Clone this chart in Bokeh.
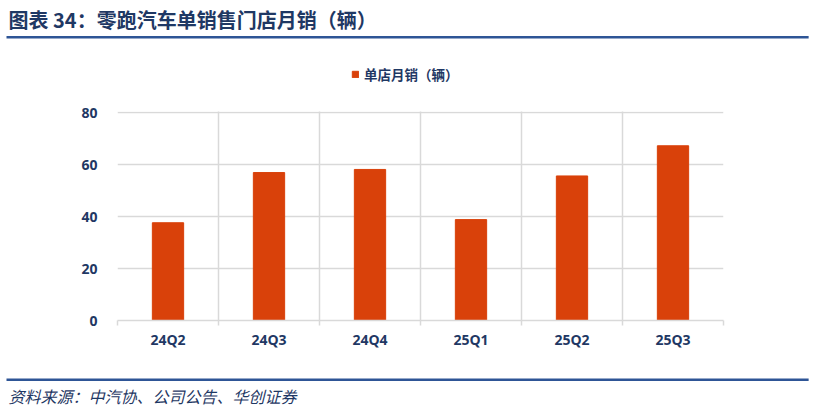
from bokeh.plotting import figure
from bokeh.models import (Range1d, FixedTicker, LinearAxis, Legend, LegendItem, Title,
                          BoxAnnotation)
from bokeh.embed import file_html
from bokeh.resources import INLINE

quarters = ["24Q2", "24Q3", "24Q4", "25Q1", "25Q2", "25Q3"]
sales = [37.6, 56.9, 58.1, 38.8, 55.6, 67.2]
y_ticks = [0, 20, 40, 60, 80]

title_text = "图表 34：零跑汽车单销售门店月销（辆）"
legend_text = "单店月销（辆）"
source_text = "资料来源：中汽协、公司公告、华创证券"

navy = "#1F3864"
rule_c = "#2E5596"
grid_c = "#D9D9D9"
bar_c = "#D9410A"
cjk = "Noto Sans CJK SC"

x_pos = [i + 0.5 for i in range(len(quarters))]

# the frame reaches up to the title rule; the band above 80 holds the legend
plot_h = 208          # pixels from 0 to 80
frame_h = 282
y_top = y_ticks[-1] * frame_h / plot_h

p = figure(
    frame_width=606, frame_height=frame_h,
    min_border_left=117, min_border_right=91,
    min_border_top=38, min_border_bottom=88,
    x_range=Range1d(0, len(quarters)), y_range=Range1d(0, y_top),
    output_backend="svg", toolbar_location=None,
)
p.outline_line_color = None

r = p.vbar(x=x_pos, top=sales, width=0.31, fill_color=bar_c, line_color=bar_c)

# boundary axis: ticks + vertical grid at category edges
ax = p.xaxis[0]
ax.ticker = FixedTicker(ticks=list(range(len(quarters) + 1)))
ax.major_label_overrides = {i: "" for i in range(len(quarters) + 1)}
ax.axis_line_color = grid_c
ax.axis_line_width = 1.5
ax.major_tick_line_color = grid_c
ax.major_tick_line_width = 1.5
ax.major_tick_in = 0
ax.major_tick_out = 5
ax.minor_tick_line_color = None
ax.major_label_standoff = 0

# label axis: quarter names at category centres
lab = LinearAxis(
    ticker=FixedTicker(ticks=x_pos),
    major_label_overrides={x: q for x, q in zip(x_pos, quarters)},
)
lab.axis_line_color = None
lab.major_tick_line_color = None
lab.minor_tick_line_color = None
lab.major_tick_in = 0
lab.major_tick_out = 0
lab.major_label_standoff = 4
lab.major_label_text_font = "Open Sans"
lab.major_label_text_font_size = "14px"
lab.major_label_text_font_style = "bold"
lab.major_label_text_color = navy
p.add_layout(lab, "below")

p.yaxis.ticker = FixedTicker(ticks=y_ticks)
p.yaxis.axis_line_color = None
p.yaxis.major_tick_line_color = None
p.yaxis.minor_tick_line_color = None
p.yaxis.major_tick_in = 0
p.yaxis.major_tick_out = 0
p.yaxis.major_label_standoff = 20
p.yaxis.major_label_text_font = "Open Sans"
p.yaxis.major_label_text_font_size = "14px"
p.yaxis.major_label_text_font_style = "bold"
p.yaxis.major_label_text_color = navy

p.xgrid.grid_line_color = grid_c
p.xgrid.grid_line_width = 1.5
p.ygrid.grid_line_color = grid_c
p.ygrid.grid_line_width = 1.5

# blank out the grid above the top tick
p.add_layout(BoxAnnotation(bottom=y_ticks[-1] + 0.4, fill_color="white", fill_alpha=1,
                           line_color=None, level="underlay"))

legend = Legend(
    items=[LegendItem(label=legend_text, renderers=[r])],
    location=(234, 236), orientation="horizontal",
    padding=4, margin=0, glyph_width=8, glyph_height=8, label_standoff=5,
    label_text_font=cjk, label_text_font_size="13.5px",
    label_text_font_style="bold", label_text_color=navy,
    background_fill_alpha=0, border_line_color=None,
)
p.add_layout(legend, "center")


def rule(valign):
    # thin blue rule: an (almost) empty title box with wide horizontal padding
    return Title(text=" ", align="left", offset=-111, vertical_align=valign, standoff=0,
                 text_font_size="0.5px", padding=(401, 1),
                 background_fill_color=rule_c, background_fill_alpha=1)


p.add_layout(rule("bottom"), "above")
p.add_layout(Title(text=title_text, align="left", offset=-109, vertical_align="bottom",
                   standoff=0, text_font=cjk, text_font_size="20px",
                   text_font_style="bold", text_color=navy), "above")

# blank spacer between the quarter labels and the footer rule
p.add_layout(Title(text=" ", standoff=0, text_font="Liberation Sans",
                   text_font_size="22px"), "below")
p.add_layout(rule("top"), "below")
p.add_layout(Title(text=source_text, align="left", offset=-109, vertical_align="top",
                   standoff=0, text_font=cjk, text_font_size="16px",
                   text_font_style="italic", text_color=navy), "below")

open("out.html", "w").write(file_html(p, INLINE))
